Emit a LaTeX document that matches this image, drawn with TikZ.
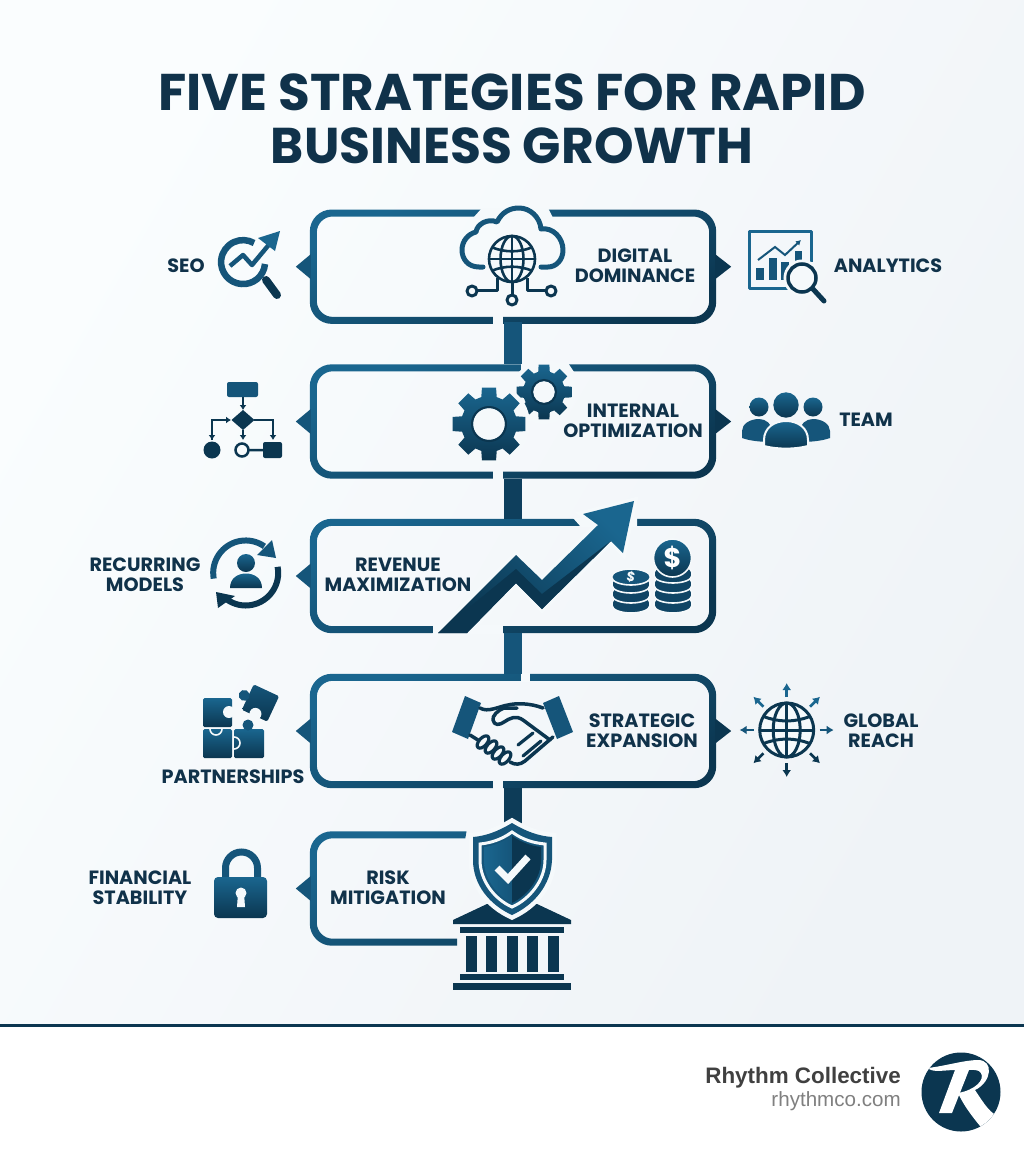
\documentclass[tikz,border=0pt]{standalone}
\usepackage{fontspec}
\setmainfont{Poppins}
\newfontfamily\footFont{Liberation Sans}
\usetikzlibrary{arrows.meta}
\definecolor{bgStart}{HTML}{FAFDFE}
\definecolor{bgEnd}{HTML}{EFF3F7}
\definecolor{bgHalo}{HTML}{F5F9FB}
\definecolor{iconTop}{HTML}{1A668F}
\definecolor{iconMid}{HTML}{15557A}
\definecolor{iconBot}{HTML}{0B3650}
\definecolor{inkDark}{HTML}{10324A}
\tikzstyle{panelBox} = [
 rectangle,
 minimum width = 406pt,
 minimum height = 114pt,
 inner sep = 0pt
]
\tikzstyle{panelShade} = [
 top color=iconTop,
 bottom color=iconBot,
 shading angle=25
]
\tikzstyle{iconFill} = [
 top color=iconTop,
 bottom color=iconBot
]
\tikzstyle{panelLink} = [
 line width = 18pt,
 draw=iconMid
]
\tikzstyle{gapFill} = [
 fill=bgHalo
]
\tikzstyle{iconLabel} = [
 text=inkDark,
 align = center,
 inner sep = 0pt,
 font=\bfseries\fontsize{19.2}{20}\selectfont
]
\tikzstyle{thinIcon} = [
 draw=iconMid,
 line width = 3pt,
 line join = round
]
\newcommand{\panelRing}[1]{
  \shade[panelShade, even odd rule, rounded corners=22pt]
    (#1.south west) rectangle (#1.north east)
    [rounded corners=16pt] ([shift={(7,-7)}]#1.south west) rectangle ([shift={(-7,7)}]#1.north east);
}
\newcommand{\leftTip}[1]{
  \fill[iconMid] ([shift={(1,-12.5)}]#1.west) -- ([xshift=-14pt]#1.west) -- ([shift={(1,12.5)}]#1.west) -- cycle;
}
\newcommand{\rightTip}[1]{
  \fill[iconBot] ([shift={(-1,-12.5)}]#1.east) -- ([xshift=15pt]#1.east) -- ([shift={(-1,12.5)}]#1.east) -- cycle;
}
\newcommand{\globeMark}[4]{
  \begin{scope}[shift={(#1,#2)},line width=#4,draw=iconBot]
    \draw[fill=bgHalo] (0,0) circle[radius=#3];
    \draw (0,0) ellipse[x radius=.5*#3,y radius=#3];
    \draw (0,-#3) -- (0,#3);
    \draw (-#3,0) -- (#3,0);
    \draw (-.85*#3,-.5*#3) .. controls (-.3*#3,-.28*#3) and (.3*#3,-.28*#3) .. (.85*#3,-.5*#3);
    \draw (-.85*#3,.5*#3) .. controls (-.3*#3,.28*#3) and (.3*#3,.28*#3) .. (.85*#3,.5*#3);
  \end{scope}
}
\newcommand{\gearMark}[5]{
  \begin{scope}[shift={(#1,#2)}]
    \fill[bgHalo] (0,0) circle[radius=#3+4];
    \shade[iconFill, even odd rule] (-16:#4) \foreach \a in {0,45,...,315} {
      -- (\a-16:#4) -- (\a-11:#3) -- (\a+11:#3) -- (\a+16:#4)
    } -- cycle (0,0) circle[radius=#5];
    \draw[iconBot, line width=2pt] (0,0) circle[radius=#5+1];
  \end{scope}
}
\newcommand{\coinDisk}[2]{
  \path[fill=iconBot!50!iconMid, draw=bgHalo, line width=1.6pt] (#1-19,#2)
    arc[x radius=19,y radius=7.5,start angle=180,end angle=360]
    -- (#1+19,#2+3) arc[x radius=19,y radius=7.5,start angle=0,end angle=180] -- cycle;
}
\begin{document}
\begin{tikzpicture}[x=1pt,y=-1pt]
  \useasboundingbox (0,0) rectangle (1024,1154);
  \shade[left color=bgStart, right color=bgEnd, shading angle=60] (0,0) rectangle (1024,1025);
  \fill[white] (0,1026) rectangle (1024,1154);
  \fill[iconBot] (0,1024) rectangle (1024,1027);

  \node [iconLabel, font=\bfseries\fontsize{51.6}{53}\selectfont, text=inkDark] (title) at (512,119) {FIVE STRATEGIES FOR RAPID\\{\fontsize{50.3}{53}\selectfont BUSINESS GROWTH}};

  \node [panelBox] (digital) at (513,266.7) {};
  \node [panelBox] (internal) at (513,421.5) {};
  \node [panelBox] (revenue) at (513,576) {};
  \node [panelBox] (strategic) at (513,731) {};
  \node [panelBox] (risk) at (513,888.5) {};

  \panelRing{digital}
  \panelRing{internal}
  \panelRing{revenue}
  \panelRing{strategic}
  \begin{scope}
    \clip (300,820) -- (468.5,820) -- (465,840) -- (457,840) -- (457,950) -- (300,950) -- cycle;
    \panelRing{risk}
  \end{scope}
  \leftTip{digital}
  \rightTip{digital}
  \leftTip{internal}
  \rightTip{internal}
  \leftTip{revenue}
  \leftTip{strategic}
  \rightTip{strategic}
  \leftTip{risk}

  \fill[gapFill] (482,208) -- (548,208) -- (553,218) -- (473,218) -- cycle;
  \fill[gapFill] (493,316) rectangle (503,325);
  \fill[gapFill] (521,363) -- (568,363) -- (574,372) -- (521,372) -- cycle;
  \fill[gapFill] (493,471) rectangle (503,480);
  \fill[gapFill] (573,518) -- (637,518) -- (637,527) -- (581,527) -- cycle;
  \fill[gapFill] (433,625) rectangle (503,634);
  \fill[gapFill] (521,673) rectangle (530,682);
  \fill[gapFill] (493,780) rectangle (503,790);

  \draw[panelLink] (digital.south) ++(0,-2) -- (internal.north);
  \draw[panelLink, draw=iconBot!70!iconMid] (internal.south) -- (revenue.north);
  \draw[panelLink] (revenue.south) -- (strategic.north);
  \draw[panelLink, draw=iconBot!80!iconMid] (strategic.south) -- (risk.north);

  % seo lens
  \draw[thinIcon, line width=6.5pt, draw=iconMid] (265,264) arc[start angle=5,end angle=300,radius=22];
  \draw[iconBot, line width=8pt, line cap=round] (266,280) -- (277,295);
  \draw[thinIcon, line width=4.5pt, draw=iconMid] (230,266) -- (243,255) -- (252,265) -- (272,241);
  \fill[iconTop] (280,231) -- (258,238) -- (275,251) -- cycle;

  % analytics board
  \draw[thinIcon, draw=iconTop] (799,288) -- (749,288) -- (749,231) -- (811,231) -- (811,262);
  \fill[iconMid] (756,268) rectangle (764,280);
  \fill[iconMid] (769,258) rectangle (777,280);
  \fill[iconMid] (781,262) rectangle (789,280);
  \fill[iconMid] (795,251) rectangle (802,262);
  \draw[iconMid, line width=2pt, -{Latex[length=5pt,width=6pt]}] (758,260) -- (775,247) -- (785,255) -- (801,240);
  \draw[bgHalo, line width=7pt] (802,278) circle[radius=15];
  \draw[draw=iconBot, fill=bgHalo, line width=3.5pt] (802,278) circle[radius=14];
  \draw[iconBot, line width=5pt, line cap=round] (813,289) -- (824,301);

  % cloud
  \draw[thinIcon, line width=5pt, draw=iconMid, line cap=round] (483,267) -- (479,267) .. controls (468,267) and (462,259) .. (462,250)
    .. controls (462,241) and (468,234) .. (476,232) .. controls (477,224) and (488,218) .. (497,222)
    .. controls (502,212) and (510,208) .. (519,208) .. controls (530,208) and (540,217) .. (541,229)
    .. controls (553,227) and (563,238) .. (563,250) .. controls (563,260) and (556,267) .. (548,267) -- (541,267);
  \draw[thinIcon, draw=iconBot] (497,278) -- (497,290) -- (477,290);
  \draw[thinIcon, draw=iconBot] (527,278) -- (527,290) -- (547,290);
  \draw[thinIcon, draw=iconBot] (512,283) -- (512,296);
  \draw[thinIcon, draw=iconBot, fill=bgHalo] (472,291) circle[radius=5];
  \draw[thinIcon, draw=iconBot, fill=bgHalo] (551,291) circle[radius=5];
  \draw[thinIcon, draw=iconBot, fill=bgHalo] (512,300) circle[radius=5];
  \globeMark{512}{259}{23}{2.6pt}

  % gears and team
  \gearMark{544}{392}{28}{21}{11}
  \gearMark{489}{424}{37}{28}{16}
  \shade[iconFill] (759,407) circle[radius=9.5];
  \shade[iconFill] (813,407) circle[radius=9.5];
  \shade[iconFill] (786,405) circle[radius=12.7];
  \fill[iconMid] (742,438) -- (742,431) .. controls (742,424) and (750,419) .. (759,419) .. controls (766,419) and (772,424) .. (772,431) -- (772,442) .. controls (762,442) and (750,441) .. (742,438) -- cycle;
  \fill[iconMid] (830,438) -- (830,431) .. controls (830,424) and (822,419) .. (813,419) .. controls (806,419) and (800,424) .. (800,431) -- (800,442) .. controls (810,442) and (822,441) .. (830,438) -- cycle;
  \shade[iconFill, draw=bgHalo, line width=2pt] (764,446) -- (764,440) .. controls (764,428) and (774,421) .. (786,421) .. controls (798,421) and (808,428) .. (808,440) -- (808,446) .. controls (795,449.5) and (777,449.5) .. (764,446) -- cycle;

  % flow chart
  \fill[iconMid, rounded corners=2pt] (227,382) rectangle (258,397);
  \fill[iconBot] (243,410) -- (254.5,420) -- (243,430) -- (231.5,420) -- cycle;
  \draw[iconBot, line width=1.8pt, -{Latex[length=5pt,width=7pt]}] (243,397) -- (243,410);
  \draw[iconBot, line width=1.8pt, -{Latex[length=5pt,width=7pt]}] (243,430) -- (243,440);
  \draw[iconBot, line width=1.8pt, -{Latex[length=5pt,width=7pt]}] (212,440) -- (212,420) -- (231,420);
  \draw[iconBot, line width=1.8pt, -{Latex[length=5pt,width=7pt]}] (212,420) -- (212,440);
  \draw[iconBot, line width=1.8pt, -{Latex[length=5pt,width=7pt]}] (254,420) -- (273,420) -- (273,440);
  \fill[iconBot] (212,450) circle[radius=8.5];
  \draw[iconBot, line width=2.5pt] (242,450) circle[radius=6.5] (249,450) -- (263,450);
  \fill[iconBot, rounded corners=2pt] (263,442) rectangle (282,458);

  % recurring arrows
  \draw[thinIcon, line width=6pt] (213.7,578.6) arc[start angle=170,end angle=305,radius=32.5];
  \draw[thinIcon, line width=6pt, draw=iconBot] (277.6,566.8) arc[start angle=-11,end angle=125,radius=32.5];
  \fill[iconMid] (272,540) -- (276,558) -- (257,555) -- cycle;
  \fill[iconBot] (218,608) -- (216,592) -- (235,596) -- cycle;
  \shade[iconFill] (246,563) circle[radius=9];
  \shade[iconFill] (230,588) .. controls (230,578) and (238,573.5) .. (246,573.5) .. controls (254,573.5) and (262,578) .. (262,588) -- cycle;

  % trend arrow
  \def\trendPath{(438,633) -- (516,555) -- (542,580) -- (598,525) -- (583,514) -- (634,501) -- (623,553) -- (611,541) -- (542,609) -- (516,583) -- (467,633) -- cycle}
  \draw[draw=bgHalo, line width=7pt] \trendPath;
  \shade[top color=iconTop, bottom color=iconBot, shading angle=-45] \trendPath;
  \fill[iconBot] (438,633) -- (516,569) -- (542,594) -- (611,541) -- (542,609) -- (516,583) -- (467,633) -- cycle;

  % coins
  \coinDisk{673}{602.5}
  \coinDisk{673}{592.5}
  \coinDisk{673}{582.5}
  \coinDisk{673}{572.5}
  \coinDisk{631}{602.5}
  \coinDisk{631}{592.5}
  \coinDisk{631}{582.5}
  \path[fill=iconMid, draw=bgHalo, line width=1.6pt] (631,577) ellipse[x radius=19.5,y radius=8];
  \shade[iconFill, draw=bgHalo, line width=1.6pt] (672.5,558) circle[radius=19];
  \node [font=\bfseries\fontsize{27}{27}\selectfont, text=white, inner sep=0pt] (bigDollar) at (672.5,558) {\$};
  \node [font=\bfseries\fontsize{13}{13}\selectfont, text=bgHalo, inner sep=0pt, rotate=-12] (smallDollar) at (631,577) {\$};

  % puzzle
  \shade[iconFill, rounded corners=1.5pt] (203,698) rectangle (232,727);
  \fill[bgHalo] (229,712) circle[radius=6];
  \shade[iconFill, rounded corners=1.5pt] (203,729) rectangle (232,758);
  \draw[bgHalo, line width=1.6pt] (210,729) arc[start angle=180,end angle=0,radius=6];
  \shade[iconFill, rounded corners=1.5pt] (234,729) rectangle (264,758);
  \fill[iconMid] (248,725) circle[radius=5.5];
  \draw[bgHalo, line width=1.6pt] (234,737) arc[start angle=270,end angle=450,radius=6];
  \begin{scope}[shift={(260.5,703)},rotate=-25]
    \shade[top color=iconMid, bottom color=iconBot, rounded corners=1.5pt] (-14,-14) rectangle (14,14);
    \fill[iconMid] (-18,0) circle[radius=5.5];
    \fill[bgHalo] (0,12) circle[radius=6];
  \end{scope}

  % handshake
  \fill[iconMid] (465,696) -- (481,703) -- (468,739) -- (452,732) -- cycle;
  \fill[iconMid] (559,696) -- (573,732) -- (557,739) -- (543,703) -- cycle;
  \draw[thinIcon, draw=iconBot, line width=3.5pt, line cap=round] (480,708) .. controls (488,713) and (500,706) .. (508,705) .. controls (516,703) and (530,703) .. (543,708);
  \draw[thinIcon, draw=iconBot, fill=bgHalo, line width=3.5pt, line cap=round] (517,708) -- (504,708) .. controls (498,710) and (492,716) .. (493,720) .. controls (494,726) and (500,725) .. (504,722) .. controls (510,718) and (516,715) .. (523,720) -- (550,740);
  \draw[thinIcon, draw=iconBot, line width=3.5pt, line cap=round] (470,735) -- (478,740);
  \draw[thinIcon, draw=iconBot, line width=3.5pt, line cap=round] (553,737) -- (525,761) .. controls (520,765) and (515,765) .. (510,762);
  \foreach \cx/\cy in {483/742,491/747,498/753,505/758} {
    \draw[thinIcon, draw=iconBot, fill=bgHalo, line width=3.2pt, rotate around={-42:(\cx,\cy)}] (\cx,\cy) ellipse[x radius=4,y radius=7.5];
  }
  \draw[thinIcon, draw=iconBot, line width=3.2pt, line cap=round] (533,733) -- (518,745);
  \draw[thinIcon, draw=iconBot, line width=3.2pt, line cap=round] (541,741) -- (523,756);

  % global reach
  \globeMark{786.7}{730}{27}{3pt}
  \begin{scope}[shift={(786.7,730)}]
    \foreach \a/\tone in {270/iconTop,225/iconTop,315/iconTop,0/iconMid,180/iconMid,45/iconBot,90/iconBot,135/iconBot} {
      \draw[\tone, line width=2.6pt, -{Latex[length=7pt,width=9pt]}] (\a:33) -- (\a:47);
    }
  \end{scope}

  % lock
  \draw[iconMid, line width=7pt] (225.5,880) -- (225.5,868) arc[start angle=180,end angle=360,radius=16] -- (257.5,880);
  \shade[iconFill, rounded corners=4pt] (214,877) rectangle (267,918);
  \fill[bgHalo] (241,893) circle[radius=5.5];
  \fill[bgHalo] (238,893) -- (244,893) -- (245,907) -- (237,907) -- cycle;

  % building and shield
  \fill[iconBot] (453,920) -- (487,904) -- (537,904) -- (571,920) -- (571,924) -- (453,924) -- cycle;
  \fill[iconBot] (460,927) rectangle (564,933);
  \foreach \cx in {466,486,507,527,548} {
    \fill[iconBot] (\cx,936) rectangle (\cx+10.5,972);
  }
  \fill[iconBot] (460,974) rectangle (564,980);
  \fill[iconBot] (453,983) rectangle (571,990);
  \def\shieldPath{(512,823) .. controls (497,832) and (485,836) .. (473,837) -- (473,860) .. controls (473,885) and (490,905) .. (512,915) .. controls (534,905) and (551,885) .. (552,860) -- (552,837) .. controls (539,836) and (527,832) .. (512,823) -- cycle}
  \draw[draw=bgHalo, line width=9pt, line join=miter] \shieldPath;
  \fill[iconMid] \shieldPath;
  \draw[draw=bgHalo, line width=3pt] (512,832) .. controls (501,840) and (490,843) .. (480,844) -- (480,860) .. controls (480,880) and (494,899) .. (512,907) .. controls (530,899) and (545,880) .. (545,860) -- (545,844) .. controls (534,843) and (523,840) .. (512,832) -- cycle;
  \shade[left color=iconTop, right color=iconMid] (512,836) .. controls (503,842) and (493,846) .. (484,847) -- (484,860) .. controls (484,878) and (496,895) .. (512,903) -- cycle;
  \fill[iconBot] (512,836) .. controls (521,842) and (531,846) .. (541,847) -- (541,860) .. controls (541,878) and (528,895) .. (512,903) -- cycle;
  \draw[draw=bgHalo, line width=7pt] (497,868) -- (508,879) -- (528,857);

  % logo
  \fill[iconBot] (961,1092) circle[radius=39.5];
  \begin{scope}
    \clip (961,1092) circle[radius=39.5];
    \fill[white] (928,1068) .. controls (945,1066) and (965,1060) .. (978,1060) .. controls (994,1060) and (992,1082) .. (975,1090)
      .. controls (985,1105) and (990,1114) .. (1002,1118) -- (985,1132) .. controls (975,1120) and (965,1108) .. (958,1093)
      .. controls (975,1090) and (985,1080) .. (981,1073) .. controls (979,1069) and (972,1070) .. (966,1070)
      -- (955,1070) .. controls (945,1070) and (932,1073) .. (928,1068) -- cycle;
    \fill[white] (955,1070) -- (969,1070) -- (952,1113) -- (939,1113) -- cycle;
  \end{scope}

  \node [iconLabel] (seoText) at (186,266) {SEO};
  \node [iconLabel] (digitalText) at (635,266) {DIGITAL\\DOMINANCE};
  \node [iconLabel] (analyticsText) at (888,266) {ANALYTICS};
  \node [iconLabel] (internalText) at (633,421) {INTERNAL\\OPTIMIZATION};
  \node [iconLabel] (teamText) at (866,420) {TEAM};
  \node [iconLabel] (recurringText) at (145,575) {RECURRING\\MODELS};
  \node [iconLabel] (revenueText) at (398,575) {REVENUE\\MAXIMIZATION};
  \node [iconLabel] (partnerText) at (233,777) {PARTNERSHIPS};
  \node [iconLabel] (strategicText) at (642,731) {STRATEGIC\\EXPANSION};
  \node [iconLabel] (globalText) at (881,731) {GLOBAL\\REACH};
  \node [iconLabel] (financialText) at (140,888) {FINANCIAL\\STABILITY};
  \node [iconLabel] (riskText) at (388,888) {RISK\\MITIGATION};

  \node [anchor=east, inner sep=0pt, text=black!75, font=\footFont\bfseries\fontsize{22.4}{24}\selectfont] (brandName) at (901,1078) {Rhythm Collective};
  \node [anchor=east, inner sep=0pt, text=black!50, font=\footFont\fontsize{20.6}{22}\selectfont] (brandSite) at (901,1101) {rhythmco.com};
\end{tikzpicture}
\end{document}
